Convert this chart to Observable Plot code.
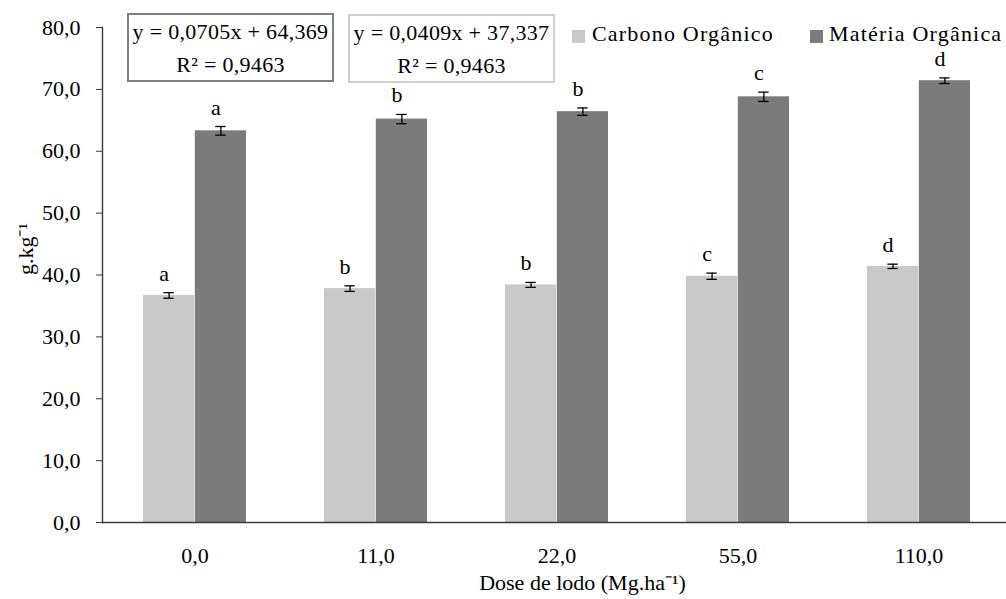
<!DOCTYPE html>
<html>
<head>
<meta charset="utf-8">
<script src="https://cdn.jsdelivr.net/npm/d3@7"></script>
<script src="https://cdn.jsdelivr.net/npm/@observablehq/plot@0.6"></script>
<style>
  body { margin: 0; background: #fff; }
  #wrap { position: relative; width: 1006px; height: 599px; overflow: hidden; font-family: "Liberation Serif", serif; color: #000; background: #fff; }
  #wrap svg { position: absolute; left: 0; top: 0; }
  .box { position: absolute; box-sizing: border-box; text-align: center; font-size: 22px; line-height: 32.7px; padding-top: 1px; letter-spacing: 0.3px; white-space: nowrap; background: #fff; }
  .sw { position: absolute; width: 13px; height: 13px; }
  .lt { position: absolute; font-size: 22px; line-height: 22px; letter-spacing: 1.2px; white-space: nowrap; }
</style>
</head>
<body>
<div id="wrap"></div>
<script>
// ---- data ----
const doses = ["0,0", "11,0", "22,0", "55,0", "110,0"];
const seriesNames = ["Carbono Orgânico", "Matéria Orgânica"];
const carbono = [36.7, 37.8, 38.4, 39.8, 41.4];
const carbonoErr = [0.45, 0.45, 0.4, 0.5, 0.35];
const carbonoLetters = ["a", "b", "b", "c", "d"];
const materia = [63.3, 65.2, 66.4, 68.8, 71.4];
const materiaErr = [0.7, 0.75, 0.6, 0.75, 0.45];
const materiaLetters = ["a", "b", "b", "c", "d"];
const yTicks = [0, 10, 20, 30, 40, 50, 60, 70, 80];
const eqMateria = ["y = 0,0705x + 64,369", "R² = 0,9463"];
const eqCarbono = ["y = 0,0409x + 37,337", "R² = 0,9463"];
const xTitle = "Dose de lodo (Mg.ha⁻¹)";
const yTitle = "g.kg⁻¹";

// ---- layout / style ----
const W = 1006, H = 599;
const X0 = 102, X1 = 1011;
const PAD_IN = 0.43, PAD_OUT = 0.215;
const step = (X1 - X0) / doses.length;
const bw = step * (1 - PAD_IN);
const CAP = 5.5;
const cLight = "#c9c9c9", cDark = "#7b7b7b";
const FONT = "Liberation Serif";
const fmt = d => d.toFixed(1).replace(".", ",");

const carbRows = doses.map((d, i) => ({dose: d, value: carbono[i], err: carbonoErr[i], letter: carbonoLetters[i]}));
const matRows = doses.map((d, i) => ({dose: d, value: materia[i], err: materiaErr[i], letter: materiaLetters[i]}));

const errMarks = (rows, center) => [
  Plot.ruleX(rows, {x: "dose", y1: d => d.value - d.err, y2: d => d.value + d.err, dx: center - bw / 2, stroke: "#000", strokeWidth: 1.3}),
  Plot.tickY(rows, {x: "dose", y: d => d.value + d.err, insetLeft: center - CAP, insetRight: bw - center - CAP, stroke: "#000", strokeWidth: 1.3}),
  Plot.tickY(rows, {x: "dose", y: d => d.value - d.err, insetLeft: center - CAP, insetRight: bw - center - CAP, stroke: "#000", strokeWidth: 1.3}),
  Plot.text(rows, {x: "dose", y: d => d.value + d.err, text: "letter", dx: center - bw / 2 - 5, dy: -12, lineAnchor: "bottom", fontSize: 22, fontFamily: FONT})
];

const chart = Plot.plot({
  width: W,
  height: H,
  marginLeft: X0,
  marginRight: 0,
  marginTop: 27,
  marginBottom: 77,
  style: {fontFamily: FONT, fontSize: "22px", color: "#000", background: "transparent", overflow: "visible"},
  x: {type: "band", domain: doses, range: [X0, X1], paddingInner: PAD_IN, paddingOuter: PAD_OUT, align: 0.5, label: null},
  y: {domain: [0, 80], label: null},
  marks: [
    Plot.barY(carbRows, {x: "dose", y: "value", fill: cLight, insetRight: bw / 2}),
    Plot.barY(matRows, {x: "dose", y: "value", fill: cDark, insetLeft: bw / 2}),
    ...errMarks(carbRows, bw / 4),
    ...errMarks(matRows, 3 * bw / 4),
    Plot.frame({anchor: "left", stroke: "#3a3a3a", strokeWidth: 1.4}),
    Plot.ruleY([0], {stroke: "#3a3a3a", strokeWidth: 1.4}),
    Plot.axisY(yTicks, {tickSize: 6, tickPadding: 16, tickFormat: fmt, fontSize: 22, fontFamily: FONT, label: null, stroke: "#3a3a3a"}),
    Plot.axisX({tickSize: 0, tickPadding: 25, fontSize: 22, fontFamily: FONT, label: null}),
    Plot.text([xTitle], {frameAnchor: "bottom", dx: 28, dy: 67, lineAnchor: "bottom", fontSize: 22, fontFamily: FONT}),
    Plot.text([yTitle], {frameAnchor: "left", dx: -77, rotate: -90, fontSize: 22, fontFamily: FONT})
  ]
});

const wrap = document.getElementById("wrap");
wrap.appendChild(chart);

function addBox(lines, left, top, border) {
  const b = document.createElement("div");
  b.className = "box";
  Object.assign(b.style, {left: left + "px", top: top + "px", width: "207px", height: "69px", border: "2px solid " + border});
  b.innerHTML = lines.map(l => `<div>${l}</div>`).join("");
  wrap.appendChild(b);
}
addBox(eqMateria, 127, 13, "#7f7f7f");
addBox(eqCarbono, 348, 14, "#cfcfcf");

function addLegend(name, color, sx, tx) {
  const s = document.createElement("div");
  s.className = "sw";
  Object.assign(s.style, {left: sx + "px", top: "30px", background: color});
  wrap.appendChild(s);
  const t = document.createElement("div");
  t.className = "lt";
  Object.assign(t.style, {left: tx + "px", top: "23px"});
  t.textContent = name;
  wrap.appendChild(t);
}
addLegend(seriesNames[0], cLight, 572, 592);
addLegend(seriesNames[1], cDark, 810, 829);
</script>
</body>
</html>
